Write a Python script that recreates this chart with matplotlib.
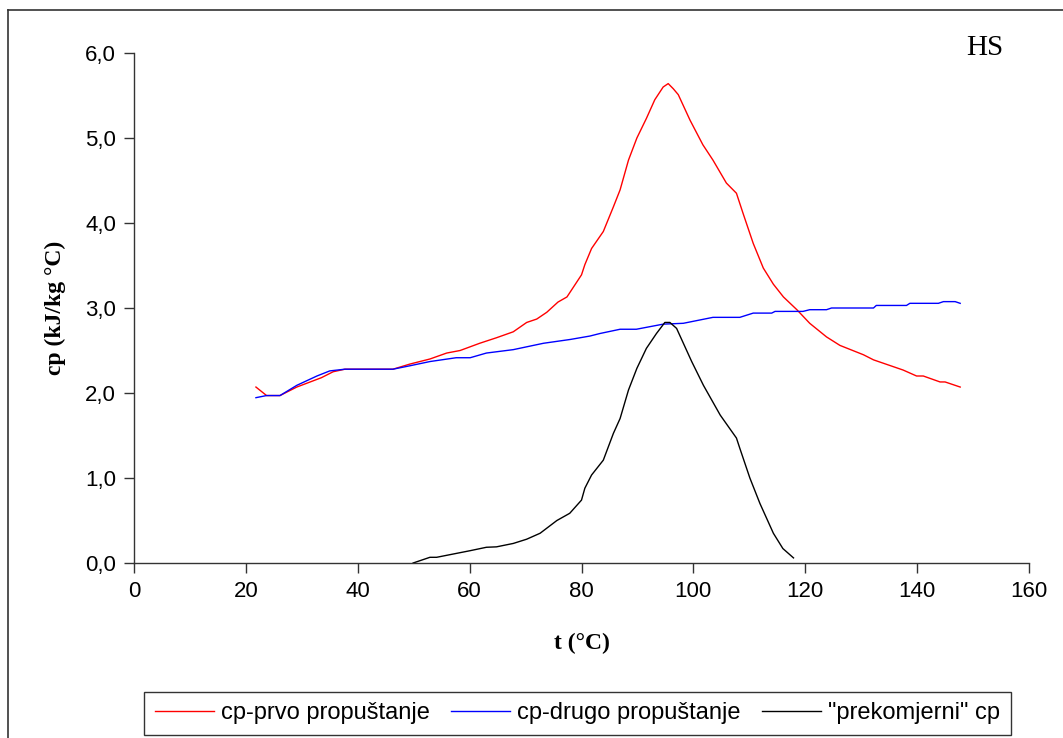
import matplotlib
matplotlib.use('Agg')
from matplotlib import pyplot as plt
from matplotlib.lines import Line2D
from matplotlib.ticker import FuncFormatter

# cp-prvo propustanje (red)
t_prvo = [21.8, 23.7, 26.1, 29.1, 33.5, 35.6, 37.7, 46.3, 49.3, 52.9, 55.9, 58.3, 61.8,
          64.8, 67.8, 70.2, 72.0, 73.8, 75.8, 77.4, 78.8, 80.0, 80.6, 81.8, 83.9, 85.7,
          86.9, 88.4, 89.9, 91.6, 93.1, 94.6, 95.5, 96.4, 97.3, 99.4, 101.7, 103.5,
          105.9, 107.7, 108.9, 110.7, 112.5, 114.3, 116.1, 118.5, 120.8, 123.8, 126.2,
          130.4, 132.2, 137.5, 139.9, 141.1, 144.1, 145.0, 147.7]
cp_prvo = [2.07, 1.97, 1.97, 2.07, 2.18, 2.25, 2.28, 2.28, 2.34, 2.40, 2.47, 2.50, 2.585,
           2.65, 2.72, 2.83, 2.87, 2.95, 3.07, 3.13, 3.27, 3.39, 3.51, 3.70, 3.90, 4.19,
           4.39, 4.74, 5.00, 5.23, 5.45, 5.60, 5.64, 5.58, 5.51, 5.21, 4.92, 4.74,
           4.47, 4.35, 4.11, 3.76, 3.47, 3.28, 3.13, 2.98, 2.82, 2.66, 2.56,
           2.45, 2.39, 2.27, 2.20, 2.20, 2.13, 2.13, 2.07]

# cp-drugo propustanje (blue)
t_drugo = [21.8, 23.7, 26.1, 29.1, 32.7, 35.0, 37.7, 46.3, 49.3, 52.9, 57.6, 60.1, 63.0,
           67.8, 73.2, 78.0, 81.5, 83.3, 86.9, 89.8, 94.6, 98.2, 103.5, 108.3, 110.7,
           114.0, 114.6, 119.6, 120.8, 123.8, 124.7, 132.2, 132.7, 138.1, 138.7, 143.8,
           144.7, 146.8, 147.7]
cp_drugo = [1.945, 1.97, 1.97, 2.09, 2.20, 2.26, 2.28, 2.28, 2.32, 2.37, 2.415, 2.415, 2.47,
            2.51, 2.585, 2.63, 2.67, 2.70, 2.75, 2.75, 2.81, 2.82, 2.89, 2.89, 2.94,
            2.94, 2.96, 2.96, 2.98, 2.98, 3.00, 3.00, 3.03, 3.03, 3.055, 3.055,
            3.075, 3.075, 3.055]

# "prekomjerni" cp (black)
t_prek = [49.9, 52.9, 54.1, 60.1, 63.0, 64.8, 67.8, 70.2, 72.6, 75.6, 77.9, 80.0, 80.6,
          81.8, 83.9, 85.7, 86.9, 88.4, 89.9, 91.6, 93.4, 94.9, 95.8, 97.0, 99.7, 101.8,
          104.8, 107.7, 108.3, 110.1, 111.9, 114.3, 116.0, 117.9]
cp_prek = [0.0, 0.067, 0.067, 0.145, 0.185, 0.19, 0.23, 0.28, 0.35, 0.50, 0.585, 0.74, 0.88,
           1.035, 1.21, 1.525, 1.70, 2.035, 2.29, 2.525, 2.70, 2.83, 2.83, 2.76, 2.37, 2.09,
           1.74, 1.47, 1.35, 1.0, 0.70, 0.35, 0.17, 0.06]

labels = ['cp-prvo propuštanje', 'cp-drugo propuštanje', '"prekomjerni" cp']

W, H = 1063, 738
fig = plt.figure(figsize=(W / 100, H / 100), dpi=100)
ax = fig.add_axes([134 / W, 1 - 563 / H, (1029 - 134) / W, (563 - 53) / H])

ax.plot(t_prvo, cp_prvo, color='#ff0000', lw=1.0, label=labels[0])
ax.plot(t_drugo, cp_drugo, color='#0000ff', lw=1.0, label=labels[1])
ax.plot(t_prek, cp_prek, color='black', lw=1.0, label=labels[2])

ax.set_xlim(0, 160)
ax.set_ylim(0, 6)
ax.set_xticks(range(0, 161, 20))
ax.set_yticks([0, 1, 2, 3, 4, 5, 6])
ax.yaxis.set_major_formatter(FuncFormatter(lambda v, p: ('%.1f' % v).replace('.', ',')))

for s in ['top', 'right']:
    ax.spines[s].set_visible(False)
for s in ['left', 'bottom']:
    ax.spines[s].set_color('#333333')
    ax.spines[s].set_linewidth(1.0)
ax.tick_params(direction='out', length=7, width=1.0, color='#333333',
               labelsize=16, pad=6)
for lab in ax.get_xticklabels() + ax.get_yticklabels():
    lab.set_family('Liberation Sans')

ax.set_xlabel('t (°C)', family='Liberation Serif', fontweight='bold', fontsize=17, labelpad=22)
ax.set_ylabel('cp (kJ/kg °C)', family='Liberation Serif', fontweight='bold', fontsize=17, labelpad=14)

fig.text(985 / W, 1 - 48 / H, 'HS', family='Liberation Serif', fontsize=21,
         ha='center', va='center')

# outer chart frame (left and top edges visible)
fig.add_artist(Line2D([8 / W, 8 / W], [0, 1 - 10 / H], transform=fig.transFigure,
                      color='#333333', lw=1.2))
fig.add_artist(Line2D([8 / W, 1], [1 - 10 / H, 1 - 10 / H], transform=fig.transFigure,
                      color='#333333', lw=1.2))

leg = fig.legend(loc='center', bbox_to_anchor=((148 + 1007) / 2 / W, 1 - 713.5 / H),
                 ncol=3, frameon=True, fancybox=False, shadow=False,
                 prop={'family': 'Liberation Sans', 'size': 17},
                 handlelength=2.5, handletextpad=0.3, columnspacing=0.9,
                 borderpad=0.45, borderaxespad=0)
leg.get_frame().set_edgecolor('black')
leg.get_frame().set_linewidth(1.0)

fig.savefig('out.png', dpi=100)
